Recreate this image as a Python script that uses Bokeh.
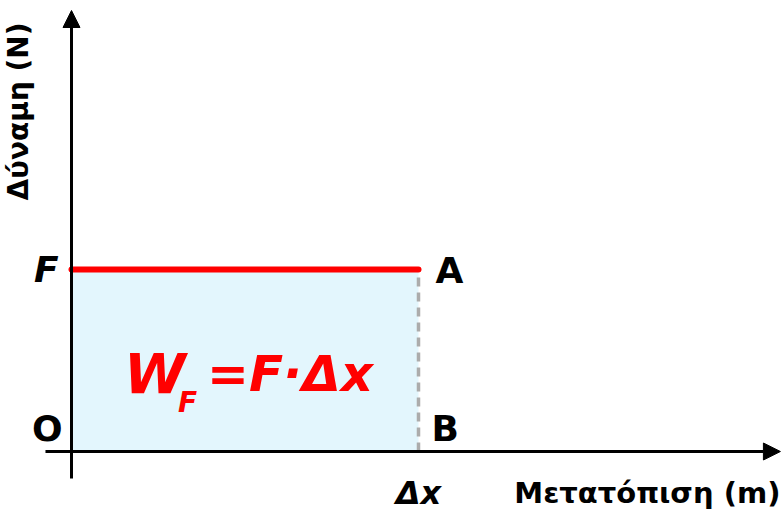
from math import pi
from bokeh.plotting import figure
from bokeh.models import Arrow, NormalHead, Label, Range1d
from bokeh.embed import file_html
from bokeh.resources import INLINE

# ---- data ----
force = 1.0          # F (constant force)
displacement = 1.0   # Δx
x_axis_ext = [-0.075, 2.043]   # extent of drawn x axis (data units)
y_axis_ext = [-0.148, 2.423]   # extent of drawn y axis (data units)
x_title = "Μετατόπιση (m)"
y_title = "Δύναμη (N)"
point_labels = {"F": "F", "A": "A", "O": "O", "B": "B", "dx": "Δx"}

FONT = "DejaVu Sans"

p = figure(width=783, height=512, output_backend="svg", toolbar_location=None,
           x_axis_type=None, y_axis_type=None, min_border=0,
           x_range=Range1d(-71/347, 712/347), y_range=Range1d(-61/182, 451/182))
p.grid.visible = False
p.outline_line_color = None
p.background_fill_color = "white"
p.border_fill_color = "white"

# work area
p.quad(left=[0], right=[displacement], bottom=[0], top=[force],
       fill_color="#e3f6fd", line_color=None)
# dashed vertical A-B
p.line([displacement, displacement], [0, force], line_color="#acacac",
       line_width=3.5, line_dash="9 6")
# force line
p.line([0, displacement], [force, force], line_color="#ff0000",
       line_width=6, line_cap="round")

# axes with arrows
p.add_layout(Arrow(x_start=x_axis_ext[0], y_start=0, x_end=x_axis_ext[1], y_end=0,
                   line_width=3, line_color="black",
                   end=NormalHead(size=17, fill_color="black", line_color="black")))
p.add_layout(Arrow(x_start=0, y_start=y_axis_ext[0], x_end=0, y_end=y_axis_ext[1],
                   line_width=3, line_color="black",
                   end=NormalHead(size=17, fill_color="black", line_color="black")))

def lab(x, y, text, size, xo=0, yo=0, align="left", base="middle",
        style="bold", color="black", angle=0):
    p.add_layout(Label(x=x, y=y, text=text, x_offset=xo, y_offset=yo,
                       text_align=align, text_baseline=base,
                       text_font=FONT, text_font_size=f"{size}px",
                       text_font_style=style, text_color=color, angle=angle))

lab(0, force, point_labels["F"], 36, xo=-13, align="right", style="bold italic")
lab(displacement, force, point_labels["A"], 36, xo=17, yo=-1)
lab(0, 0, point_labels["O"], 36, xo=-9, yo=23, align="right")
lab(displacement, 0, point_labels["B"], 36, xo=13, yo=23)
lab(displacement, 0, point_labels["dx"], 32, yo=-41, align="center", style="bold italic")
lab(x_axis_ext[1], 0, x_title, 29, yo=-41, align="right")
lab(0, force, y_title, 28, xo=-53, yo=158, align="center", angle=pi/2)

# formula W_F = F·Δx
cx, cy = displacement / 2, force / 2
lab(cx, cy, "W", 56, xo=-121, yo=-13, base="alphabetic", style="bold italic", color="#ff0000")
lab(cx, cy, "F", 28, xo=-67, yo=-42, base="alphabetic", style="bold italic", color="#ff0000")
lab(cx, cy, "=F·Δx", 50, xo=-38, yo=-13, base="alphabetic", style="bold italic", color="#ff0000")

open("out.html", "w").write(file_html(p, INLINE))
